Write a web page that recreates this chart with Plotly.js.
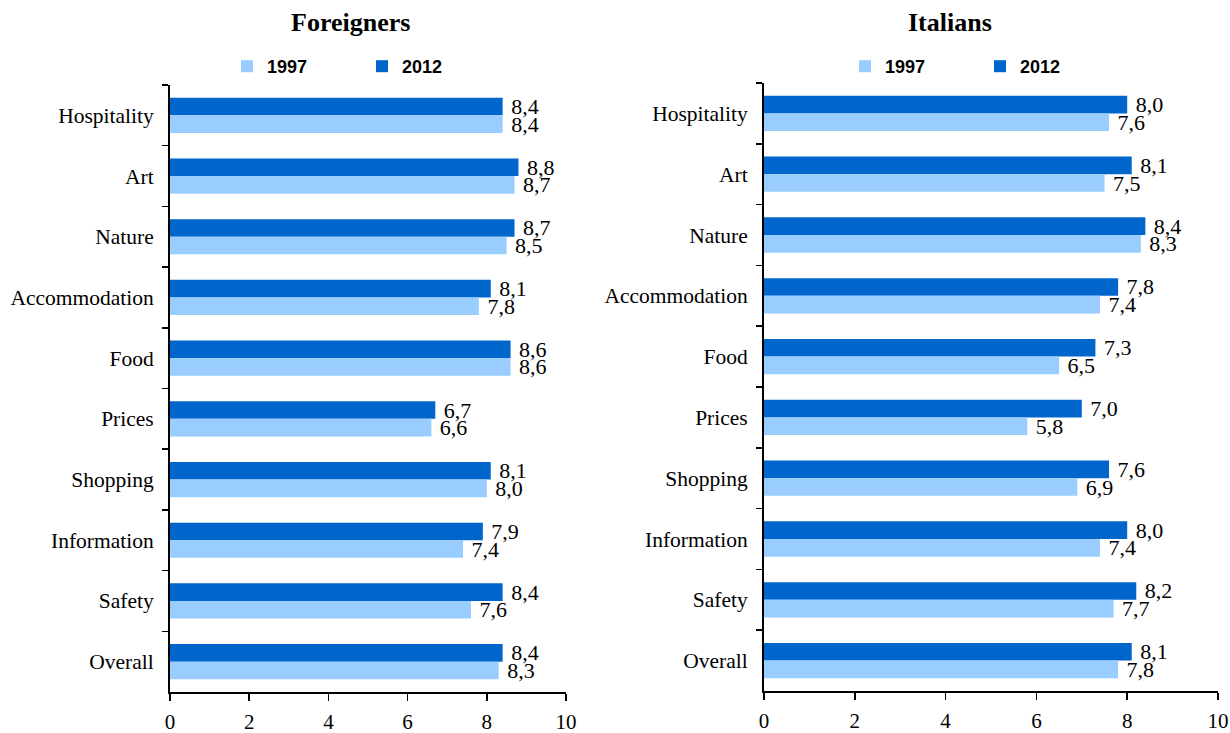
<!DOCTYPE html>
<html>
<head>
<meta charset="utf-8">
<script src="https://cdn.plot.ly/plotly-3.0.1.min.js"></script>
<style>html,body{margin:0;padding:0;background:#fff}#chart{width:1230px;height:733px}</style>
</head>
<body>
<div id="chart"></div>
<script>
const categories = ["Hospitality","Art","Nature","Accommodation","Food","Prices","Shopping","Information","Safety","Overall"];
const foreigners2012 = [8.4, 8.8, 8.7, 8.1, 8.6, 6.7, 8.1, 7.9, 8.4, 8.4];
const foreigners1997 = [8.4, 8.7, 8.5, 7.8, 8.6, 6.6, 8.0, 7.4, 7.6, 8.3];
const italians2012 = [8.0, 8.1, 8.4, 7.8, 7.3, 7.0, 7.6, 8.0, 8.2, 8.1];
const italians1997 = [7.6, 7.5, 8.3, 7.4, 6.5, 5.8, 6.9, 7.4, 7.7, 7.8];
const xTicks = [0, 2, 4, 6, 8, 10];
const panelTitles = ["Foreigners", "Italians"];
const seriesNames = ["1997", "2012"];

const C1997 = "#99CCFF", C2012 = "#0066CC";
const serif = "Liberation Serif, Times New Roman, serif";
const labelFont = {family: serif, size: 22, color: "#000"};

function bar(vals, name, color, xa, ya, leg) {
  return {
    type: "bar", orientation: "h", y: categories, x: vals, name: name,
    xaxis: xa, yaxis: ya, legend: leg,
    marker: {color: color, line: {width: 0}},
    texttemplate: " %{x:.1f}", textposition: "outside", constraintext: "none",
    cliponaxis: false, textfont: labelFont, hoverinfo: "x+y"
  };
}

const data = [
  bar(foreigners2012, seriesNames[1], C2012, "x", "y", "legend"),
  bar(foreigners1997, seriesNames[0], C1997, "x", "y", "legend"),
  bar(italians2012, seriesNames[1], C2012, "x2", "y2", "legend2"),
  bar(italians1997, seriesNames[0], C1997, "x2", "y2", "legend2")
];

function xaxis(domain, anchor) {
  return {
    domain: domain, anchor: anchor, range: [0, 10], tickvals: xTicks,
    showgrid: false, zeroline: false, showline: true, linecolor: "#000", linewidth: 2,
    ticks: "outside", ticklen: 7, tickwidth: 1.5, tickcolor: "#000",
    ticklabelstandoff: 3,
    tickfont: {family: serif, size: 21, color: "#000"}, fixedrange: true
  };
}
function yaxis(domain, anchor) {
  return {
    domain: domain, anchor: anchor, type: "category", autorange: "reversed",
    showgrid: false, zeroline: false, showline: true, linecolor: "#000", linewidth: 2,
    ticks: "outside", tickson: "boundaries", ticklen: 6, tickwidth: 1.5, tickcolor: "#000",
    ticklabelstandoff: 10,
    tickfont: {family: serif, size: 21.5, color: "#000"}, fixedrange: true
  };
}
const legFont = {family: "Liberation Sans, Arial, sans-serif", size: 18, color: "#000", weight: "bold"};
function legend(x) {
  return {orientation: "h", x: x, xanchor: "left", y: 1 - 66.5/733, yanchor: "middle",
    traceorder: "reversed", entrywidth: 90, entrywidthmode: "pixels",
    font: legFont, bgcolor: "rgba(0,0,0,0)", borderwidth: 0};
}

const layout = {
  width: 1230, height: 733,
  margin: {l: 0, r: 0, t: 0, b: 0},
  paper_bgcolor: "#fff", plot_bgcolor: "#fff",
  separators: ",.",
  barmode: "group", bargap: 0.42, bargroupgap: 0,
  showlegend: true,
  xaxis: xaxis([170/1230, 566/1230], "y"),
  yaxis: yaxis([1 - 692/733, 1 - 85/733], "x"),
  xaxis2: xaxis([764/1230, 1218/1230], "y2"),
  yaxis2: yaxis([1 - 691/733, 1 - 83/733], "x2"),
  legend: legend(227/1230),
  legend2: legend(845/1230),
  annotations: [
    {text: panelTitles[0], xref: "paper", yref: "paper", x: 350/1230, y: 1 - 23/733,
     xanchor: "center", yanchor: "middle", showarrow: false,
     font: {family: serif, size: 26, color: "#000", weight: "bold"}},
    {text: panelTitles[1], xref: "paper", yref: "paper", x: 950/1230, y: 1 - 23/733,
     xanchor: "center", yanchor: "middle", showarrow: false,
     font: {family: serif, size: 26, color: "#000", weight: "bold"}}
  ]
};

Plotly.newPlot("chart", data, layout, {displayModeBar: false, staticPlot: true});
</script>
</body>
</html>
